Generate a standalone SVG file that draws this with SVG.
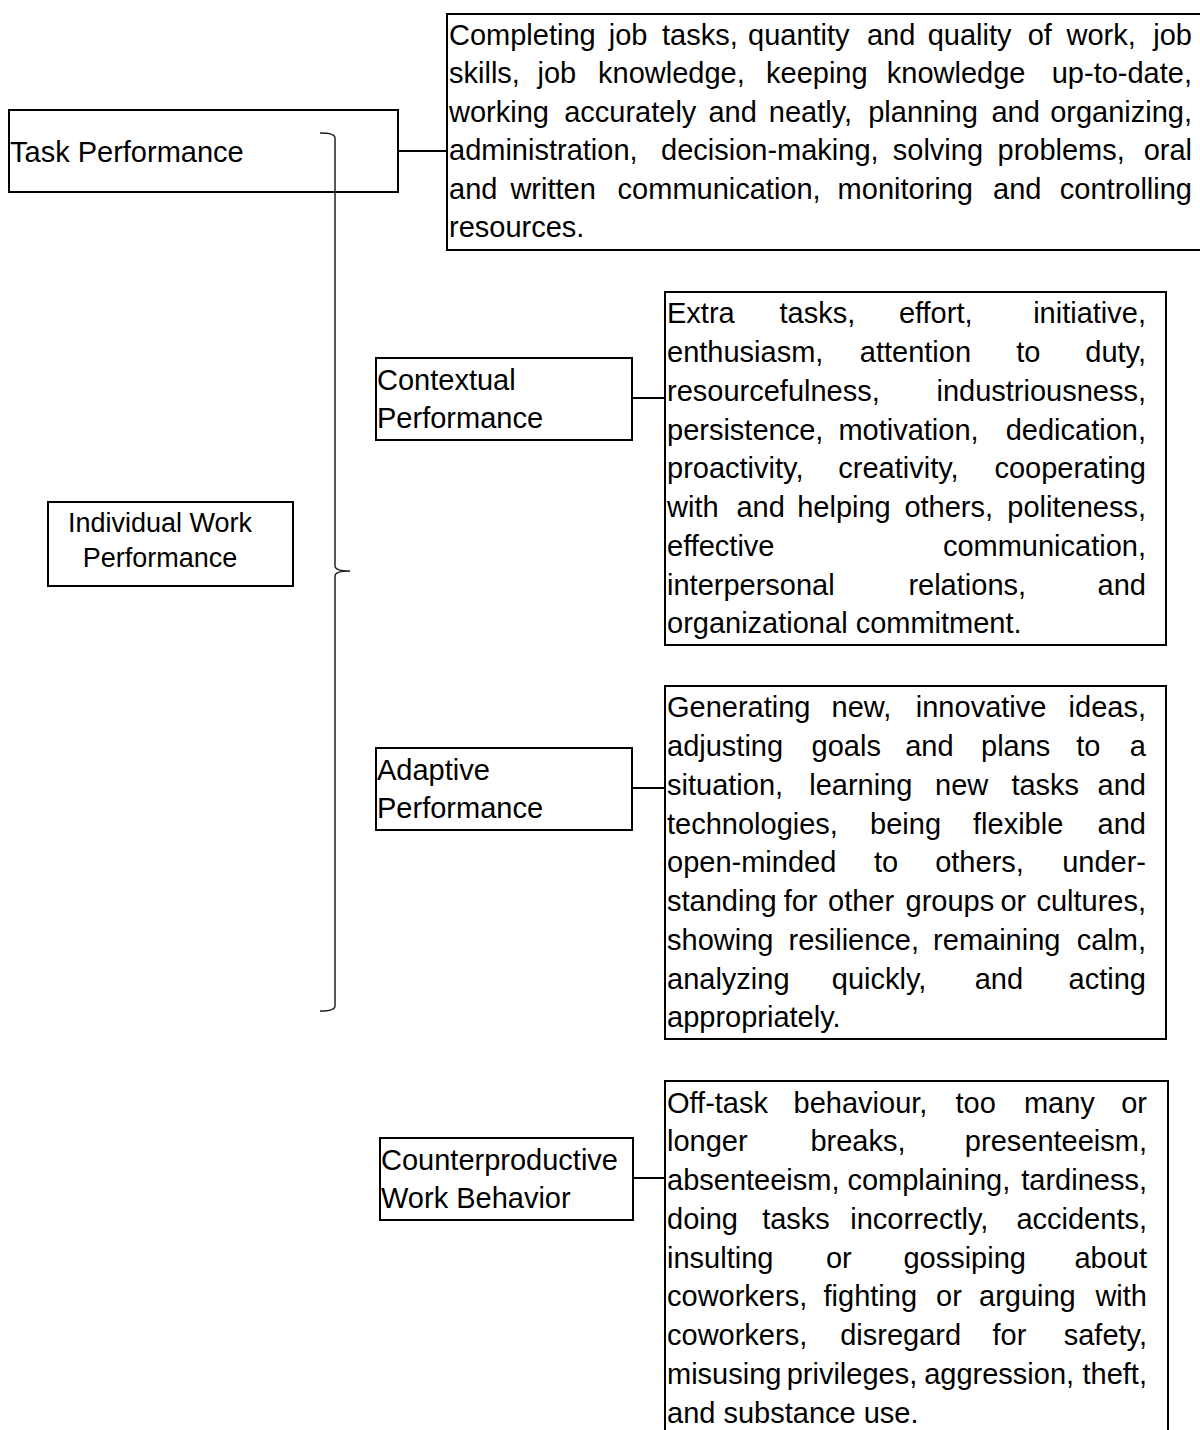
<svg xmlns="http://www.w3.org/2000/svg" width="1200" height="1430" viewBox="0 0 1200 1430">
<style>
.bx{fill:#fff;stroke:#000;stroke-width:2}
.t{font-family:'Liberation Sans',Arial,sans-serif;font-size:29px;fill:#000}
.e{text-anchor:end}
.c{stroke:#000;stroke-width:2;fill:none}
.br{stroke:#222;stroke-width:1.5;fill:none}
</style>
<rect width="1200" height="1430" fill="#fff"/>
<g id="task-performance">
<rect class="bx" x="9" y="110" width="389" height="82"/>
<text class="t" x="10" y="162">Task Performance</text>
</g>
<g id="task-details">
<rect class="bx" x="447" y="14" width="760" height="236"/>
<text class="t" y="45"><tspan x="449">Completing</tspan><tspan x="608.7">job</tspan><tspan x="662">tasks,</tspan><tspan x="748">quantity</tspan><tspan x="866.9">and</tspan><tspan x="927.7">quality</tspan><tspan x="1027.7">of</tspan><tspan x="1066.5">work,</tspan><tspan class="e" x="1192">job</tspan></text>
<text class="t" y="83.4"><tspan x="449">skills,</tspan><tspan x="537.5">job</tspan><tspan x="598.1">knowledge,</tspan><tspan x="766">keeping</tspan><tspan x="886.8">knowledge</tspan><tspan class="e" x="1192">up-to-date,</tspan></text>
<text class="t" y="121.8"><tspan x="449">working</tspan><tspan x="564.2">accurately</tspan><tspan x="708.4">and</tspan><tspan x="768.8">neatly,</tspan><tspan x="868.2">planning</tspan><tspan x="991.4">and</tspan><tspan class="e" x="1192">organizing,</tspan></text>
<text class="t" y="160.2"><tspan x="449">administration,</tspan><tspan x="661">decision-making,</tspan><tspan x="892.8">solving</tspan><tspan x="997.5">problems,</tspan><tspan class="e" x="1192">oral</tspan></text>
<text class="t" y="198.6"><tspan x="449">and</tspan><tspan x="510.4">written</tspan><tspan x="617.6">communication,</tspan><tspan x="837.6">monitoring</tspan><tspan x="993">and</tspan><tspan class="e" x="1192">controlling</tspan></text>
<text class="t" x="449" y="237">resources.</text>
</g>
<g id="individual-work-performance">
<rect class="bx" x="48" y="502" width="245" height="84"/>
<text class="t" x="160" y="532" text-anchor="middle" style="font-size:27px">Individual Work</text>
<text class="t" x="160" y="567" text-anchor="middle" style="font-size:27px">Performance</text>
</g>
<g id="contextual-performance">
<rect class="bx" x="376" y="358" width="256" height="82"/>
<text class="t" x="377" y="390">Contextual</text>
<text class="t" x="377" y="428.3">Performance</text>
</g>
<g id="contextual-details">
<rect class="bx" x="665" y="292" width="501" height="353"/>
<text class="t" y="323.3"><tspan x="667">Extra</tspan><tspan x="779.5">tasks,</tspan><tspan x="898.9">effort,</tspan><tspan class="e" x="1146">initiative,</tspan></text>
<text class="t" y="362"><tspan x="667">enthusiasm,</tspan><tspan x="859.8">attention</tspan><tspan x="1016.2">to</tspan><tspan class="e" x="1146">duty,</tspan></text>
<text class="t" y="400.8"><tspan x="667">resourcefulness,</tspan><tspan class="e" x="1146">industriousness,</tspan></text>
<text class="t" y="439.5"><tspan x="667">persistence,</tspan><tspan x="838.4">motivation,</tspan><tspan class="e" x="1146">dedication,</tspan></text>
<text class="t" y="478.3"><tspan x="667">proactivity,</tspan><tspan x="838.3">creativity,</tspan><tspan class="e" x="1146">cooperating</tspan></text>
<text class="t" y="517"><tspan x="667">with</tspan><tspan x="736.4">and</tspan><tspan x="797.2">helping</tspan><tspan x="904.4">others,</tspan><tspan class="e" x="1146">politeness,</tspan></text>
<text class="t" y="555.8"><tspan x="667">effective</tspan><tspan class="e" x="1146">communication,</tspan></text>
<text class="t" y="594.5"><tspan x="667">interpersonal</tspan><tspan x="908.4">relations,</tspan><tspan class="e" x="1146">and</tspan></text>
<text class="t" x="667" y="633.3">organizational commitment.</text>
</g>
<g id="adaptive-performance">
<rect class="bx" x="376" y="748" width="256" height="82"/>
<text class="t" x="377" y="780">Adaptive</text>
<text class="t" x="377" y="818.3">Performance</text>
</g>
<g id="adaptive-details">
<rect class="bx" x="665" y="686" width="501" height="353"/>
<text class="t" y="717.3"><tspan x="667">Generating</tspan><tspan x="831.6">new,</tspan><tspan x="915.8">innovative</tspan><tspan class="e" x="1146">ideas,</tspan></text>
<text class="t" y="756"><tspan x="667">adjusting</tspan><tspan x="811.6">goals</tspan><tspan x="905.2">and</tspan><tspan x="981">plans</tspan><tspan x="1076.2">to</tspan><tspan class="e" x="1146">a</tspan></text>
<text class="t" y="794.8"><tspan x="667">situation,</tspan><tspan x="809.2">learning</tspan><tspan x="935">new</tspan><tspan x="1011.4">tasks</tspan><tspan class="e" x="1146">and</tspan></text>
<text class="t" y="833.5"><tspan x="667">technologies,</tspan><tspan x="870.1">being</tspan><tspan x="973">flexible</tspan><tspan class="e" x="1146">and</tspan></text>
<text class="t" y="872.3"><tspan x="667">open-minded</tspan><tspan x="873.9">to</tspan><tspan x="935.2">others,</tspan><tspan class="e" x="1146">under-</tspan></text>
<text class="t" y="911"><tspan x="667">standing</tspan><tspan x="783.7">for</tspan><tspan x="828">other</tspan><tspan x="905.5">groups</tspan><tspan x="1000.4">or</tspan><tspan class="e" x="1146">cultures,</tspan></text>
<text class="t" y="949.8"><tspan x="667">showing</tspan><tspan x="788.5">resilience,</tspan><tspan x="933.1">remaining</tspan><tspan class="e" x="1146">calm,</tspan></text>
<text class="t" y="988.5"><tspan x="667">analyzing</tspan><tspan x="831.8">quickly,</tspan><tspan x="974.7">and</tspan><tspan class="e" x="1146">acting</tspan></text>
<text class="t" x="667" y="1027.3">appropriately.</text>
</g>
<g id="counterproductive-work-behavior">
<rect class="bx" x="380" y="1138" width="253" height="82"/>
<text class="t" x="381" y="1170">Counterproductive</text>
<text class="t" x="381" y="1208.3">Work Behavior</text>
</g>
<g id="counterproductive-details">
<rect class="bx" x="665" y="1081" width="503" height="380"/>
<text class="t" y="1112.5"><tspan x="667">Off-task</tspan><tspan x="793.6">behaviour,</tspan><tspan x="955.5">too</tspan><tspan x="1023.9">many</tspan><tspan class="e" x="1147">or</tspan></text>
<text class="t" y="1151.3"><tspan x="667">longer</tspan><tspan x="810.4">breaks,</tspan><tspan class="e" x="1147">presenteeism,</tspan></text>
<text class="t" y="1190"><tspan x="667">absenteeism,</tspan><tspan x="847.4">complaining,</tspan><tspan class="e" x="1147">tardiness,</tspan></text>
<text class="t" y="1228.8"><tspan x="667">doing</tspan><tspan x="762.2">tasks</tspan><tspan x="850.3">incorrectly,</tspan><tspan class="e" x="1147">accidents,</tspan></text>
<text class="t" y="1267.5"><tspan x="667">insulting</tspan><tspan x="825.9">or</tspan><tspan x="903.4">gossiping</tspan><tspan class="e" x="1147">about</tspan></text>
<text class="t" y="1306.3"><tspan x="667">coworkers,</tspan><tspan x="823.5">fighting</tspan><tspan x="936.1">or</tspan><tspan x="979">arguing</tspan><tspan class="e" x="1147">with</tspan></text>
<text class="t" y="1345"><tspan x="667">coworkers,</tspan><tspan x="840.2">disregard</tspan><tspan x="992.5">for</tspan><tspan class="e" x="1147">safety,</tspan></text>
<text class="t" y="1383.8"><tspan x="667">misusing</tspan><tspan x="786.7">privileges,</tspan><tspan x="924.2">aggression,</tspan><tspan class="e" x="1147">theft,</tspan></text>
<text class="t" x="667" y="1422.5">and substance use.</text>
</g>
<g id="connectors">
<line class="c" x1="398" y1="151" x2="447" y2="151"/>
<line class="c" x1="632" y1="398" x2="665" y2="398"/>
<line class="c" x1="632" y1="788" x2="665" y2="788"/>
<line class="c" x1="633" y1="1178" x2="665" y2="1178"/>
<path class="br" d="M320,133 Q335,133 335,138 L335,566 Q335,571 350,571 Q335,571 335,576 L335,1006 Q335,1011 320,1011"/>
</g>
</svg>
